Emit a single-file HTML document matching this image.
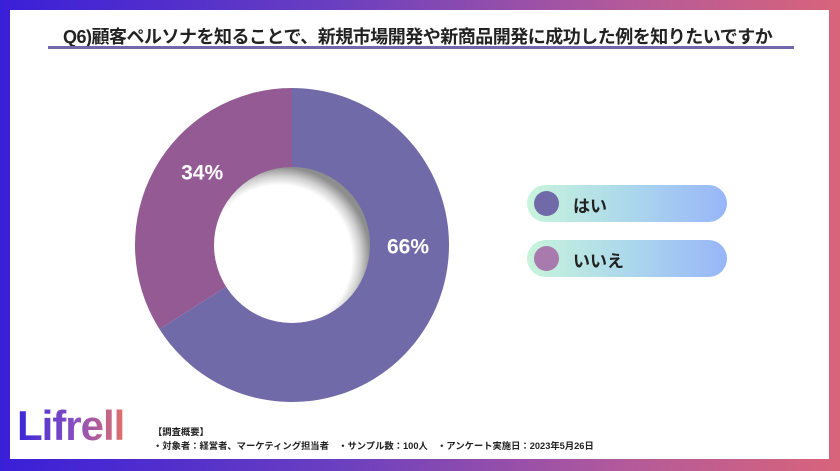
<!DOCTYPE html>
<html><head><meta charset="utf-8"><style>
html,body{margin:0;padding:0}
body{width:840px;height:471px;position:relative;overflow:hidden;background:linear-gradient(90deg,#3a1fd8 0%,#6a3fc0 40%,#b45a9a 75%,#d8647a 100%);font-family:"Liberation Sans","Noto Sans CJK JP",sans-serif}
#panel{position:absolute;left:10px;top:10px;width:819px;height:449px;background:#fff}
#title{position:absolute;left:63px;top:23px;font-size:18px;font-weight:bold;color:#222;letter-spacing:-0.5px;white-space:nowrap}
#uline{position:absolute;left:48px;top:46px;width:746px;height:3px;background:#7466aa}
.pill{position:absolute;left:527px;width:200px;height:37px;border-radius:19px;background:linear-gradient(90deg,#c8f4dc,#acd8ec 50%,#98b6f8)}
.dot{position:absolute;left:7px;top:6px;width:25px;height:25px;border-radius:50%}
.pl{position:absolute;left:46px;top:7px;font-size:17px;font-weight:bold;color:#222}
#logo{position:absolute;left:17px;top:402px;font-size:42px;font-weight:bold;letter-spacing:-1px;background:linear-gradient(90deg,#3a28d8,#8a4fc0 55%,#e0706a);-webkit-background-clip:text;background-clip:text;color:transparent}
#note{position:absolute;left:153px;top:425px;font-size:9.3px;font-weight:bold;color:#222;line-height:14px;white-space:nowrap}
</style></head><body>
<div id="panel"></div>
<div id="title">Q6)顧客ペルソナを知ることで、新規市場開発や新商品開発に成功した例を知りたいですか</div>
<div id="uline"></div>
<svg id="chart" width="840" height="471" style="position:absolute;left:0;top:0">
<defs><radialGradient id="sh" cx="0.42" cy="0.58" r="0.58"><stop offset="0.8" stop-color="#fff"/><stop offset="0.9" stop-color="#d0d0d0"/><stop offset="1" stop-color="#8e8e8e"/></radialGradient></defs>
<g id="slices"></g>
</svg>
<div class="pill" style="top:185px"><div class="dot" style="background:#716aa8"></div><div class="pl">はい</div></div>
<div class="pill" style="top:240px"><div class="dot" style="background:#a87aad"></div><div class="pl">いいえ</div></div>
<div id="logo">Lifrell</div>
<div id="note">【調査概要】<br>・対象者：経営者、マーケティング担当者　・サンプル数：100人　・アンケート実施日：2023年5月26日</div>
<script>
const categories=["はい","いいえ"];
const values=[66,34];
const labels=["66%","34%"];
const colors=["#716aa8","#935a94"];
const labelFrac=[0.38,0.585];
const cx=292,cy=245,R=157,r=78;
const ns="http://www.w3.org/2000/svg";
const g=document.getElementById('slices');
const total=values.reduce((a,b)=>a+b,0);
let a0=-Math.PI/2;
function pt(a,rad){return [cx+rad*Math.cos(a),cy+rad*Math.sin(a)];}
const texts=[];
values.forEach((v,i)=>{
  const a1=a0+v/total*2*Math.PI;
  const large=(a1-a0)>Math.PI?1:0;
  const p0=pt(a0,R),p1=pt(a1,R);
  const p=document.createElementNS(ns,'path');
  p.setAttribute('d',`M${cx},${cy}L${p0[0]},${p0[1]}A${R},${R} 0 ${large} 1 ${p1[0]},${p1[1]}Z`);
  p.setAttribute('fill',colors[i]);
  
  
  g.appendChild(p);
  const am=a0+(a1-a0)*labelFrac[i],lp=pt(am,116);
  const t=document.createElementNS(ns,'text');
  t.setAttribute('x',lp[0]);t.setAttribute('y',lp[1]+8);
  t.setAttribute('text-anchor','middle');t.setAttribute('fill','#fff');
  t.setAttribute('font-size','21');t.setAttribute('font-weight','bold');
  t.setAttribute('font-family','Liberation Sans, sans-serif');
  t.textContent=labels[i];
  
  
  texts.push(t);
  a0=a1;
});
const hole=document.createElementNS(ns,'circle');
hole.setAttribute('cx',cx);hole.setAttribute('cy',cy);hole.setAttribute('r',r);
hole.setAttribute('fill','url(#sh)');


g.appendChild(hole);
texts.forEach(t=>g.appendChild(t));
</script>
</body></html>
